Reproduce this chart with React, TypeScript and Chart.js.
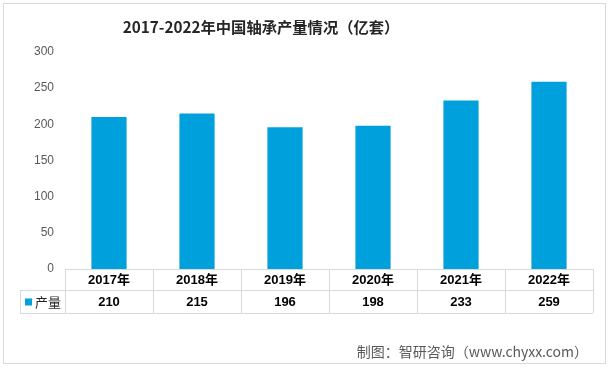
import React, { useEffect, useRef } from "react";
import { Chart, registerables } from "chart.js";

Chart.register(...registerables);

const categories = ["2017年", "2018年", "2019年", "2020年", "2021年", "2022年"];
const production = [210, 215, 196, 198, 233, 259];
const seriesName = "产量";
const titleText = "2017-2022年中国轴承产量情况（亿套）";
const sourceText = "制图：智研咨询（www.chyxx.com）";
const yMax = 300;
const yStep = 50;

const BAR_COLOR = "#00A0DC";
const LINE_COLOR = "#D9D9D9";
const CJK = "'Noto Sans CJK SC', 'Liberation Sans', sans-serif";
const NUM = "'Liberation Sans', 'Noto Sans CJK SC', sans-serif";

const decorPlugin = {
  id: "decor",
  afterDraw(chart: any) {
    const ctx = chart.ctx as CanvasRenderingContext2D;
    const area = chart.chartArea;
    const xs = chart.scales.x;
    const n = categories.length;
    const colW = (area.right - area.left) / n;
    const rowTop = area.bottom;
    const rowMid = rowTop + 21;
    const rowBot = rowMid + 23;
    const legendLeft = 20;

    ctx.save();
    // outer border
    ctx.strokeStyle = LINE_COLOR;
    ctx.lineWidth = 1;
    ctx.strokeRect(3.5, 3.5, 602, 360);

    // title
    ctx.fillStyle = "#262626";
    ctx.font = `bold 15.3px ${CJK}`;
    ctx.textAlign = "center";
    ctx.textBaseline = "middle";
    ctx.fillText(titleText, 261, 27);

    // table lines
    ctx.strokeStyle = LINE_COLOR;
    ctx.lineWidth = 1;
    ctx.beginPath();
    ctx.moveTo(area.left, rowTop + 0.5);
    ctx.lineTo(area.right, rowTop + 0.5);
    ctx.moveTo(legendLeft, rowMid + 0.5);
    ctx.lineTo(area.right, rowMid + 0.5);
    ctx.moveTo(legendLeft, rowBot + 0.5);
    ctx.lineTo(area.right, rowBot + 0.5);
    ctx.moveTo(legendLeft + 0.5, rowMid);
    ctx.lineTo(legendLeft + 0.5, rowBot);
    for (let i = 0; i <= n; i++) {
      const x = Math.round(area.left + i * colW) + 0.5;
      ctx.moveTo(x, rowTop);
      ctx.lineTo(x, rowBot);
    }
    ctx.stroke();

    // header + values
    ctx.fillStyle = "#000000";
    ctx.textAlign = "center";
    ctx.textBaseline = "middle";
    for (let i = 0; i < n; i++) {
      const cx = xs.getPixelForValue(i);
      ctx.font = `bold 13px ${NUM}`;
      ctx.fillText(categories[i], cx, (rowTop + rowMid) / 2 + 1);
      ctx.fillText(String(production[i]), cx, (rowMid + rowBot) / 2 + 1);
    }

    // legend cell
    ctx.fillStyle = BAR_COLOR;
    ctx.fillRect(25, (rowMid + rowBot) / 2 - 3, 7, 7);
    ctx.fillStyle = "#262626";
    ctx.textAlign = "left";
    ctx.font = `13px ${CJK}`;
    ctx.fillText(seriesName, 35, (rowMid + rowBot) / 2 + 1);

    // source
    ctx.fillStyle = "#595959";
    ctx.textAlign = "right";
    ctx.font = `14px ${CJK}`;
    ctx.fillText(sourceText, 588, 352);
    ctx.restore();
  },
};

export default function App() {
  const ref = useRef<HTMLCanvasElement | null>(null);
  useEffect(() => {
    if (!ref.current) return;
    const chart = new Chart(ref.current, {
      type: "bar",
      data: {
        labels: categories,
        datasets: [
          {
            label: seriesName,
            data: production,
            backgroundColor: BAR_COLOR,
            categoryPercentage: 1,
            barPercentage: 0.4,
          },
        ],
      },
      options: {
        animation: false,
        responsive: false,
        maintainAspectRatio: false,
        devicePixelRatio: 1,
        layout: { padding: { left: 0, top: 52, right: 19, bottom: 100 } },
        plugins: {
          legend: { display: false },
          title: { display: false },
          tooltip: { enabled: false },
        },
        scales: {
          x: { display: false },
          y: {
            min: 0,
            max: yMax,
            ticks: {
              stepSize: yStep,
              padding: 11,
              color: "#595959",
              font: { family: NUM, size: 12 },
            },
            grid: { display: false, drawTicks: false },
            border: { display: false },
            afterFit(scale: any) {
              scale.width = 65;
            },
          },
        },
      },
      plugins: [decorPlugin],
    });
    return () => chart.destroy();
  }, []);
  return (
    <div style={{ position: "fixed", left: 0, top: 0, width: 612, height: 369, background: "#fff" }}>
      <canvas ref={ref} width={612} height={369} style={{ width: 612, height: 369 }} />
    </div>
  );
}
